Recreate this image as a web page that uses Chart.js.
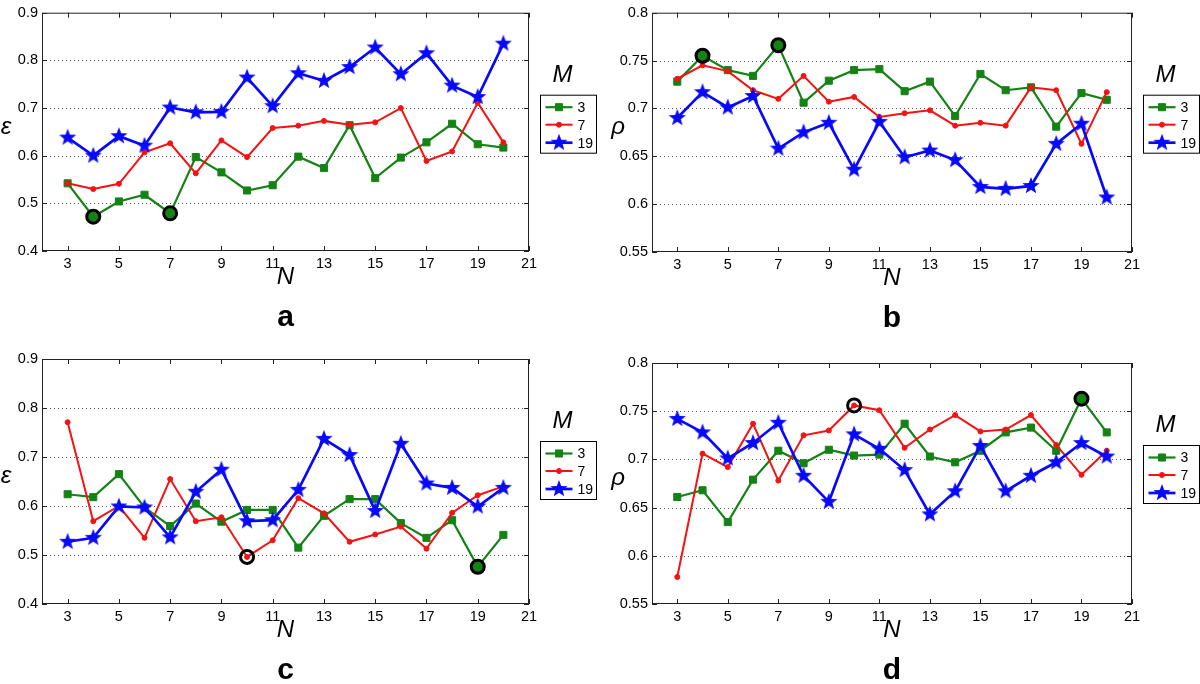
<!DOCTYPE html>
<html>
<head>
<meta charset="utf-8">
<title>epsilon / rho vs N</title>
<script src="https://cdn.jsdelivr.net/npm/chart.js@4.4.1/dist/chart.umd.min.js"></script>
<style>
    html, body { margin: 0; padding: 0; background: #fff; }
    #wrap { position: relative; width: 1200px; height: 684px; overflow: hidden; }
    #wrap canvas { position: absolute; }
</style>
</head>
<body>
<div id="wrap">
    <canvas id="panelA" width="600" height="342" style="left:0;top:0"></canvas>
    <canvas id="panelB" width="600" height="342" style="left:600px;top:0"></canvas>
    <canvas id="panelC" width="600" height="342" style="left:0;top:342px"></canvas>
    <canvas id="panelD" width="600" height="342" style="left:600px;top:342px"></canvas>
</div>
<script>
// x values (N) and tick labels
const nValues = [3, 4, 5, 6, 7, 8, 9, 10, 11, 12, 13, 14, 15, 16, 17, 18, 19, 20];
const xTickValues = [3, 5, 7, 9, 11, 13, 15, 17, 19, 21];
const epsTickValues = [0.4, 0.5, 0.6, 0.7, 0.8, 0.9];
const rhoTickValues = [0.55, 0.6, 0.65, 0.7, 0.75, 0.8];
const seriesNames = ['3', '7', '19'];

// panel a (epsilon)
const epsA3 = [0.542, 0.472, 0.504, 0.518, 0.479, 0.597, 0.565, 0.527, 0.538, 0.598, 0.574, 0.664, 0.553, 0.596, 0.628, 0.667, 0.624, 0.617];
const epsA7 = [0.542, 0.530, 0.541, 0.607, 0.626, 0.563, 0.632, 0.597, 0.658, 0.663, 0.673, 0.665, 0.670, 0.700, 0.589, 0.609, 0.711, 0.628];
const epsA19 = [0.638, 0.600, 0.641, 0.621, 0.701, 0.691, 0.692, 0.764, 0.704, 0.773, 0.757, 0.786, 0.827, 0.771, 0.815, 0.747, 0.723, 0.835];

// panel b (rho)
const rhoB3 = [0.728, 0.755, 0.740, 0.734, 0.766, 0.706, 0.729, 0.740, 0.741, 0.718, 0.728, 0.692, 0.736, 0.719, 0.722, 0.681, 0.716, 0.709];
const rhoB7 = [0.731, 0.745, 0.739, 0.719, 0.710, 0.734, 0.707, 0.712, 0.691, 0.695, 0.698, 0.682, 0.685, 0.682, 0.722, 0.719, 0.663, 0.717];
const rhoB19 = [0.690, 0.717, 0.701, 0.713, 0.658, 0.675, 0.685, 0.636, 0.686, 0.649, 0.656, 0.646, 0.618, 0.616, 0.619, 0.663, 0.684, 0.607];

// panel c (epsilon)
const epsC3 = [0.624, 0.618, 0.665, 0.597, 0.559, 0.605, 0.568, 0.592, 0.592, 0.515, 0.580, 0.614, 0.614, 0.565, 0.535, 0.571, 0.476, 0.541];
const epsC7 = [0.771, 0.569, 0.600, 0.535, 0.655, 0.569, 0.577, 0.496, 0.530, 0.616, 0.585, 0.527, 0.542, 0.558, 0.513, 0.586, 0.622, 0.640];
const epsC19 = [0.527, 0.535, 0.599, 0.597, 0.536, 0.629, 0.674, 0.569, 0.571, 0.633, 0.737, 0.704, 0.590, 0.727, 0.646, 0.637, 0.599, 0.637];

// panel d (rho)
const rhoD3 = [0.661, 0.668, 0.635, 0.679, 0.709, 0.696, 0.710, 0.704, 0.705, 0.737, 0.703, 0.697, 0.709, 0.728, 0.733, 0.709, 0.763, 0.728];
const rhoD7 = [0.578, 0.706, 0.692, 0.737, 0.678, 0.725, 0.730, 0.756, 0.751, 0.712, 0.731, 0.746, 0.729, 0.731, 0.746, 0.715, 0.684, 0.709];
const rhoD19 = [0.742, 0.728, 0.701, 0.717, 0.738, 0.683, 0.656, 0.726, 0.711, 0.689, 0.643, 0.667, 0.714, 0.667, 0.683, 0.697, 0.717, 0.703];

// circled points: [series index, N]
const marksA = [[0, 4], [0, 7]];
const marksB = [[0, 4], [0, 7]];
const marksC = [[1, 10], [0, 19]];
const marksD = [[1, 10], [0, 19]];

const GREEN = '#158215';
const RED = '#f51212';
const BLUE = '#0808ff';

Chart.defaults.font.family = "'Liberation Sans', Arial, sans-serif";
Chart.defaults.font.size = 14;
Chart.defaults.color = '#000';

// filled five-point star, like matlab's pentagram marker
function makeStar(outer, color) {
    const c = document.createElement('canvas');
    const size = Math.ceil(outer * 2 + 2);
    c.width = size;
    c.height = size;
    const g = c.getContext('2d');
    const inner = outer * 0.42;
    g.beginPath();
    for (let i = 0; i < 10; i++) {
        const r = i % 2 ? inner : outer;
        const ang = -Math.PI / 2 + i * Math.PI / 5;
        g.lineTo(size / 2 + r * Math.cos(ang), size / 2 + r * Math.sin(ang));
    }
    g.closePath();
    g.fillStyle = color;
    g.fill();
    return c;
}
const starImg = makeStar(9, BLUE);

// frame, dotted grid, inward ticks, legend and labels drawn matlab-style
const matlabFrame = {
    id: 'matlabFrame',
    beforeDatasetsDraw(chart) {
        const { ctx, chartArea: a, scales: { y } } = chart;
        ctx.save();
        ctx.strokeStyle = '#555';
        ctx.lineWidth = 1;
        ctx.setLineDash([1, 3]);
        y.ticks.forEach(t => {
            if (t.value <= y.min || t.value >= y.max) return;
            const py = Math.round(y.getPixelForValue(t.value)) + 0.5;
            ctx.beginPath();
            ctx.moveTo(a.left, py);
            ctx.lineTo(a.right, py);
            ctx.stroke();
        });
        ctx.restore();
    },
    afterDatasetsDraw(chart, args, opts) {
        const { ctx, chartArea: a, scales: { x, y } } = chart;
        ctx.save();
        ctx.strokeStyle = '#222';
        ctx.lineWidth = 1;
        ctx.strokeRect(a.left + 0.5, a.top + 0.5, a.width - 1, a.height - 1);

        // inward tick marks on all four sides
        ctx.beginPath();
        x.ticks.forEach(t => {
            const px = Math.round(x.getPixelForValue(t.value)) + 0.5;
            ctx.moveTo(px, a.bottom); ctx.lineTo(px, a.bottom - 5);
            ctx.moveTo(px, a.top); ctx.lineTo(px, a.top + 5);
        });
        y.ticks.forEach(t => {
            const py = Math.round(y.getPixelForValue(t.value)) + 0.5;
            ctx.moveTo(a.left, py); ctx.lineTo(a.left + 5, py);
            ctx.moveTo(a.right, py); ctx.lineTo(a.right - 5, py);
        });
        ctx.stroke();

        const midY = (a.top + a.bottom) / 2;
        const midX = (a.left + a.right) / 2;

        // y label symbol, kept upright
        ctx.fillStyle = '#000';
        ctx.textAlign = 'center';
        ctx.textBaseline = 'middle';
        ctx.font = "italic 24px 'Liberation Sans', Arial, sans-serif";
        ctx.fillText(opts.symbol, a.left - opts.symbolGap, midY - 5);

        // panel letter
        ctx.font = "bold 30px 'Liberation Sans', Arial, sans-serif";
        ctx.fillText(opts.letter, midX, a.bottom + 67);

        // legend box
        const bx = a.right + 11.5;
        const by = a.top + 82.5;
        ctx.fillStyle = '#fff';
        ctx.fillRect(bx, by, 56, 58);
        ctx.strokeStyle = '#000';
        ctx.strokeRect(bx, by, 56, 58);

        ctx.fillStyle = '#000';
        ctx.font = "italic 24px 'Liberation Sans', Arial, sans-serif";
        ctx.fillText('M', bx + 22, by - 20);

        ctx.font = "14px 'Liberation Sans', Arial, sans-serif";
        const rows = [12, 29.5, 47.5];
        chart.data.datasets.forEach((ds, i) => {
            if (i >= seriesNames.length) return;
            const ry = by + rows[i];
            ctx.strokeStyle = ds.borderColor;
            ctx.lineWidth = ds.borderWidth;
            ctx.beginPath();
            ctx.moveTo(bx + 5, ry);
            ctx.lineTo(bx + 32, ry);
            ctx.stroke();
            ctx.fillStyle = ds.pointBackgroundColor;
            ctx.strokeStyle = ds.pointBorderColor;
            ctx.lineWidth = ds.pointBorderWidth;
            Chart.helpers.drawPoint(ctx, {
                pointStyle: ds.pointStyle,
                radius: ds.pointRadius,
                borderWidth: ds.pointBorderWidth,
                rotation: 0
            }, bx + 18.5, ry);
            ctx.fillStyle = '#000';
            ctx.textAlign = 'left';
            ctx.fillText(ds.label, bx + 37, ry + 1);
        });
        ctx.restore();
    }
};

function seriesDataset(label, values, color, style) {
    return Object.assign({
        label: label,
        data: nValues.map((n, i) => ({ x: n, y: values[i] })),
        borderColor: color,
        pointBackgroundColor: color,
        pointBorderColor: color,
        pointBorderWidth: 1,
        showLine: true,
        fill: false,
        tension: 0
    }, style);
}

function makePanel(p) {
    const series = [p.m3, p.m7, p.m19];
    const ringPoints = p.marks.map(([s, n]) => ({ x: n, y: series[s][nValues.indexOf(n)] }));
    const ringFill = p.marks.map(([s]) => s === 0 ? GREEN : 'rgba(0,0,0,0)');

    const datasets = [
        seriesDataset(seriesNames[0], p.m3, GREEN, { borderWidth: 2.2, pointStyle: 'rect', pointRadius: 5, order: 3 }),
        seriesDataset(seriesNames[1], p.m7, RED, { borderWidth: 2, pointStyle: 'circle', pointRadius: 2.5, order: 2 }),
        seriesDataset(seriesNames[2], p.m19, BLUE, { borderWidth: 2.7, pointStyle: starImg, pointRadius: 9, order: 1 }),
        {
            label: 'best',
            data: ringPoints,
            showLine: false,
            pointStyle: 'circle',
            pointRadius: 6.5,
            pointBorderWidth: 3,
            pointBorderColor: '#000',
            pointBackgroundColor: ringFill,
            order: 0
        }
    ];

    new Chart(document.getElementById(p.id), {
        type: 'line',
        data: { datasets: datasets },
        options: {
            responsive: false,
            animation: false,
            layout: { padding: { left: 0, right: p.right, top: p.top, bottom: p.bottom } },
            plugins: {
                legend: { display: false },
                tooltip: { enabled: false },
                matlabFrame: { letter: p.letter, symbol: p.symbol, symbolGap: p.symbolGap }
            },
            scales: {
                x: {
                    type: 'linear',
                    min: 2,
                    max: 21,
                    grid: { display: false, drawTicks: false },
                    border: { display: false },
                    afterBuildTicks: scale => { scale.ticks = xTickValues.map(v => ({ value: v })); },
                    afterFit: scale => { scale.height = 43; },
                    ticks: { padding: 4, maxRotation: 0, callback: v => String(v), font: { size: 14.5 } },
                    title: {
                        display: true,
                        text: 'N',
                        font: { size: 24, style: 'italic' },
                        padding: { top: 0, bottom: 2 }
                    }
                },
                y: {
                    type: 'linear',
                    min: p.ticks[0],
                    max: p.ticks[p.ticks.length - 1],
                    grid: { display: false, drawTicks: false },
                    border: { display: false },
                    afterBuildTicks: scale => { scale.ticks = p.ticks.map(v => ({ value: v })); },
                    afterFit: scale => { scale.width = p.axisWidth; },
                    ticks: { padding: 4, callback: v => String(v), font: { size: 14.5 } }
                }
            }
        },
        plugins: [matlabFrame]
    });
}

window.onload = function() {
    makePanel({ id: 'panelA', letter: 'a', symbol: 'ε', symbolGap: 36, ticks: epsTickValues,
        m3: epsA3, m7: epsA7, m19: epsA19, marks: marksA, axisWidth: 42, right: 71, top: 7, bottom: 48 });
    makePanel({ id: 'panelB', letter: 'b', symbol: 'ρ', symbolGap: 34, ticks: rhoTickValues,
        m3: rhoB3, m7: rhoB7, m19: rhoB19, marks: marksB, axisWidth: 52, right: 68, top: 11, bottom: 47 });
    makePanel({ id: 'panelC', letter: 'c', symbol: 'ε', symbolGap: 36, ticks: epsTickValues,
        m3: epsC3, m7: epsC7, m19: epsC19, marks: marksC, axisWidth: 42, right: 71, top: 17, bottom: 37 });
    makePanel({ id: 'panelD', letter: 'd', symbol: 'ρ', symbolGap: 34, ticks: rhoTickValues,
        m3: rhoD3, m7: rhoD7, m19: rhoD19, marks: marksD, axisWidth: 52, right: 68, top: 21, bottom: 37 });
};
</script>
</body>
</html>
